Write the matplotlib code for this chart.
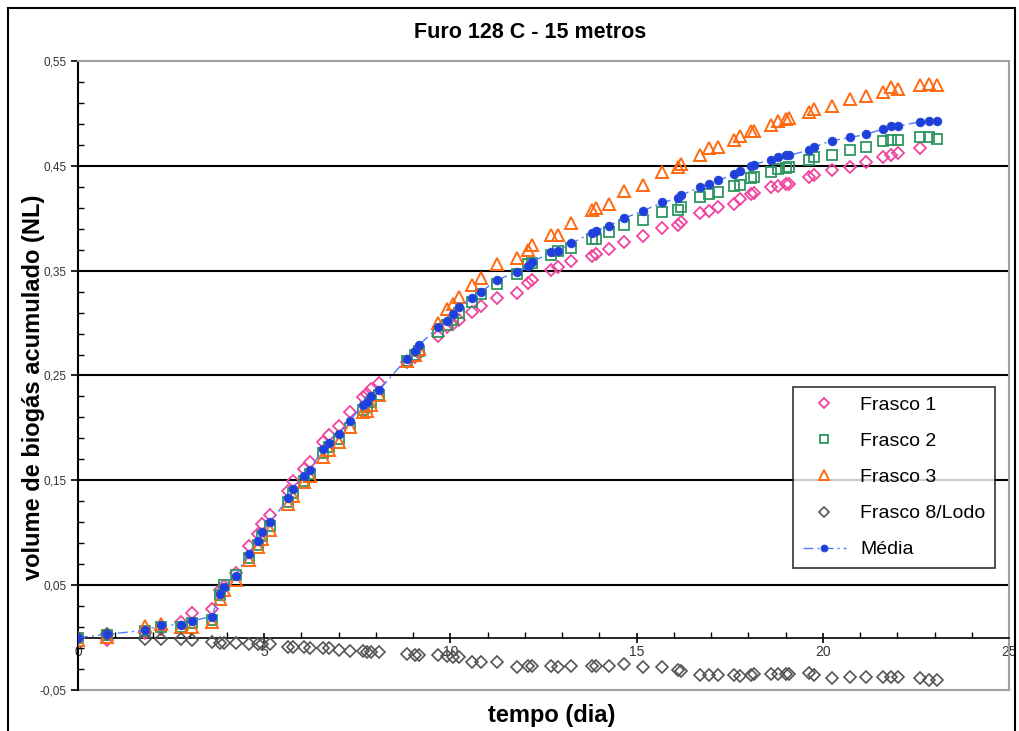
import numpy as np
import matplotlib
matplotlib.use("Agg")
import matplotlib.pyplot as plt
from matplotlib.patches import Rectangle
from matplotlib.ticker import FixedLocator

plt.rcParams["font.family"] = ["Liberation Sans", "DejaVu Sans"]

# ---- data (days, accumulated biogas NL) ----
tempo = [0, 0.77, 1.80, 2.24, 2.77, 3.06, 3.59, 3.81, 3.92, 4.23, 4.58, 4.83, 4.94,
         5.16, 5.65, 5.78, 6.07, 6.22, 6.58, 6.75, 7.00, 7.31, 7.64, 7.77, 7.86, 8.08,
         8.83, 9.04, 9.16, 9.66, 9.90, 10.06, 10.24, 10.58, 10.83, 11.25, 11.79, 12.09,
         12.19, 12.71, 12.88, 13.25, 13.79, 13.90, 14.27, 14.67, 15.17, 15.69, 16.10,
         16.20, 16.71, 16.94, 17.19, 17.62, 17.78, 18.08, 18.14, 18.61, 18.80, 19.02,
         19.10, 19.64, 19.77, 20.24, 20.73, 21.16, 21.61, 21.83, 22.03, 22.62, 22.84, 23.07]

frasco1 = [0.000, -0.002, 0.004, 0.008, 0.015, 0.023, 0.027, 0.045, 0.049, 0.062, 0.087,
           0.099, 0.108, 0.117, 0.140, 0.149, 0.161, 0.167, 0.187, 0.193, 0.202, 0.215,
           0.229, 0.232, 0.237, 0.243,
           0.263, 0.268, 0.271, 0.288, 0.296, 0.299, 0.303, 0.311, 0.316, 0.324, 0.329,
           0.338, 0.341, 0.351, 0.353, 0.359, 0.364, 0.366, 0.371, 0.377, 0.383, 0.391,
           0.394, 0.396, 0.405, 0.407, 0.411, 0.414, 0.418, 0.423, 0.424, 0.430, 0.431,
           0.433, 0.433, 0.439, 0.441, 0.446, 0.449, 0.454, 0.458, 0.460, 0.462, 0.467,
           np.nan, np.nan]

frasco2 = [0.000, 0.002, 0.006, 0.010, 0.010, 0.014, 0.017, 0.041, 0.050, 0.060, 0.076,
           0.088, 0.097, 0.106, 0.129, 0.138, 0.149, 0.156, 0.176, 0.182, 0.189, 0.200,
           0.217, 0.220, 0.225, 0.231,
           0.264, 0.270, 0.273, 0.291, 0.298, 0.303, 0.310, 0.320, 0.328, 0.337, 0.347,
           0.356, 0.357, 0.365, 0.369, 0.372, 0.380, 0.380, 0.387, 0.394, 0.398, 0.406,
           0.408, 0.411, 0.420, 0.423, 0.425, 0.431, 0.432, 0.438, 0.439, 0.444, 0.447,
           0.448, 0.449, 0.456, 0.458, 0.460, 0.465, 0.468, 0.474, 0.475, 0.475, 0.477,
           0.477, 0.476]

frasco3 = [-0.002, 0.001, 0.011, 0.013, 0.010, 0.010, 0.015, 0.037, 0.045, 0.055, 0.074,
           0.086, 0.094, 0.103, 0.127, 0.135, 0.148, 0.154, 0.172, 0.179, 0.187, 0.201,
           0.215, 0.216, 0.222, 0.231,
           0.264, 0.270, 0.275, 0.300, 0.313, 0.318, 0.325, 0.336, 0.343, 0.356, 0.362,
           0.370, 0.374, 0.384, 0.384, 0.395, 0.408, 0.410, 0.414, 0.426, 0.432, 0.444,
           0.449, 0.452, 0.460, 0.467, 0.468, 0.475, 0.478, 0.483, 0.483, 0.489, 0.493,
           0.495, 0.496, 0.501, 0.504, 0.507, 0.514, 0.517, 0.520, 0.525, 0.523, 0.527,
           0.528, 0.527]

lodo = [0.000, 0.003, -0.001, -0.001, -0.001, -0.0025, -0.0046, -0.0055, -0.0055, -0.0055,
        -0.0064, -0.0064, -0.0064, -0.0064, -0.0086, -0.0086, -0.0086, -0.0095, -0.0095,
        -0.0095, -0.0117, -0.0132, -0.0126, -0.0141, -0.0141, -0.0141,
        -0.0153, -0.0163, -0.0163, -0.017, -0.018, -0.019, -0.019, -0.023, -0.023, -0.023,
        -0.028, -0.027, -0.027, -0.027, -0.028, -0.027, -0.027, -0.027, -0.027, -0.025,
        -0.028, -0.028, -0.031, -0.032, -0.036, -0.036, -0.036, -0.036, -0.037, -0.036,
        -0.035, -0.035, -0.035, -0.035, -0.035, -0.034, -0.036, -0.039, -0.038, -0.038,
        -0.038, -0.038, -0.038, -0.039, -0.040, -0.040]

media = [0.000, 0.003, 0.007, 0.012, 0.012, 0.016, 0.020, 0.042, 0.048, 0.059, 0.080,
         0.092, 0.101, 0.110, 0.133, 0.142, 0.154, 0.160, 0.180, 0.186, 0.194, 0.207,
         0.222, 0.225, 0.230, 0.236,
         0.266, 0.273, 0.279, 0.296, 0.302, 0.309, 0.315, 0.324, 0.330, 0.341, 0.349,
         0.354, 0.358, 0.368, 0.369, 0.376, 0.386, 0.388, 0.393, 0.400, 0.407, 0.415,
         0.419, 0.422, 0.430, 0.433, 0.436, 0.442, 0.445, 0.450, 0.451, 0.456, 0.458,
         0.460, 0.460, 0.465, 0.468, 0.474, 0.477, 0.480, 0.485, 0.488, 0.488, 0.492,
         0.493, 0.493]

y_ticks = [-0.05, 0.05, 0.15, 0.25, 0.35, 0.45, 0.55]
y_labels = ["-0,05", "0,05", "0,15", "0,25", "0,35", "0,45", "0,55"]
x_ticks = [0, 5, 10, 15, 20, 25]

fig = plt.figure(figsize=(10.2, 7.31), dpi=100)
ax = fig.add_axes([0.0765, 0.0561, 0.9127, 0.8605])

# horizontal gridlines (black), not at the frame edges
for yv in y_ticks[1:-1]:
    ax.axhline(yv, color="black", lw=1.5, zorder=1)

ax.plot(tempo, frasco1, ls="none", marker="D", ms=6, mfc="none", mec="#F0449E",
        mew=1.3, label="Frasco 1", zorder=3)
ax.plot(tempo, frasco2, ls="none", marker="s", ms=7, mfc="none", mec="#2E9660",
        mew=1.3, label="Frasco 2", zorder=3)
ax.plot(tempo, frasco3, ls="none", marker="^", ms=9, mfc="none", mec="#FF6A10",
        mew=1.4, label="Frasco 3", zorder=3)
ax.plot(tempo, lodo, ls="none", marker="D", ms=6, mfc="none", mec="#555555",
        mew=1.2, label="Frasco 8/Lodo", zorder=3)
ax.plot(tempo, media, ls=(0, (7, 3, 1.5, 3)), color="#4D7CFF", lw=1.0,
        marker="o", ms=6, mfc="#1E3FE0", mec="#2A4BD0", mew=0.8,
        label="Média", zorder=4)

ax.set_xlim(0, 25)
ax.set_ylim(-0.05, 0.55)

# axes as in the Excel chart: x axis crosses at y = 0
ax.spines["bottom"].set_position(("data", 0))
ax.spines["bottom"].set_linewidth(1.2)
ax.spines["left"].set_linewidth(1.5)
for s in ("top", "right"):
    ax.spines[s].set_color("#A0A0A0")
    ax.spines[s].set_linewidth(1.5)
ax.axhline(-0.05, color="#A0A0A0", lw=1.5, clip_on=False, zorder=2)

ax.set_yticks(y_ticks)
ax.set_yticklabels(y_labels)
ax.yaxis.set_minor_locator(FixedLocator(np.arange(-0.03, 0.55, 0.02)))
ax.set_xticks(x_ticks)
ax.set_xticklabels([str(v) for v in x_ticks])
ax.xaxis.set_minor_locator(FixedLocator(np.arange(1, 25, 1)))

ax.tick_params(axis="y", which="major", direction="out", length=5, width=1.2,
               labelsize=8.5, labelcolor="#333333", pad=3)
ax.tick_params(axis="y", which="minor", direction="in", length=4, width=1)
ax.tick_params(axis="x", which="major", direction="inout", length=7, width=1.2,
               labelsize=10, labelcolor="#333333", pad=2)
ax.tick_params(axis="x", which="minor", direction="in", length=4, width=1)

fig.text(0.52, 0.955, "Furo 128 C - 15 metros", ha="center", va="center",
         fontsize=15.5, fontweight="bold")
fig.text(0.033, 0.47, "volume de biogás acumulado (NL)", rotation=90,
         ha="center", va="center", fontsize=17, fontweight="bold")
fig.text(0.541, 0.021, "tempo (dia)", ha="center", va="center",
         fontsize=17, fontweight="bold")

leg = ax.legend(loc="upper left", bbox_to_anchor=(0.768, 0.482), fontsize=14,
                frameon=True, fancybox=False, edgecolor="black", borderpad=0.5,
                labelspacing=0.95, handlelength=2.2, handletextpad=0.75,
                markerscale=0.8, borderaxespad=0)
leg.get_frame().set_linewidth(1.2)

# outer chart border
fig.patches.append(Rectangle((8 / 1020, -0.02), 1007 / 1020, 1.02 - 8 / 731,
                             transform=fig.transFigure, fill=False,
                             edgecolor="black", lw=1.5))

fig.savefig("out.png", dpi=100)
